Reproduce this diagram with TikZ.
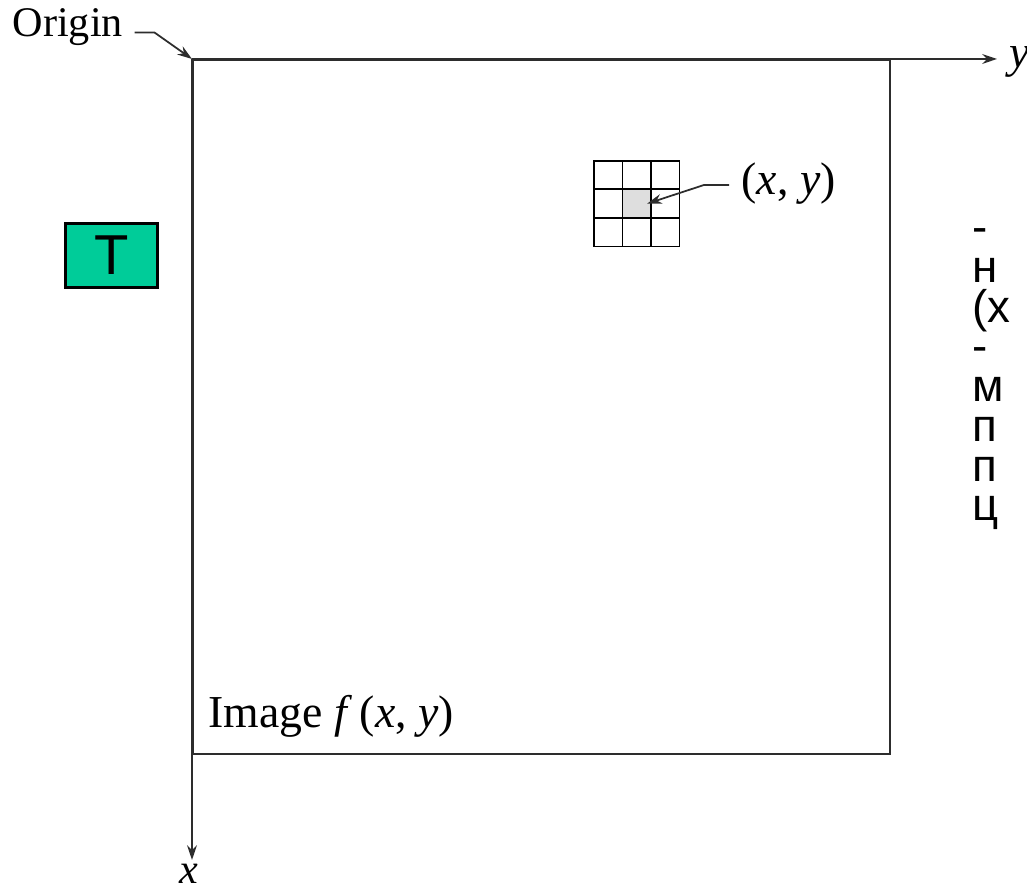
\documentclass[tikz,border=0pt]{standalone}
\usepackage{fontspec}
\setmainfont{Liberation Serif}
\newfontfamily\slidefont{Liberation Sans}
\usetikzlibrary{positioning,arrows.meta}
\definecolor{axisgray}{RGB}{45,45,45}
\definecolor{tealgreen}{RGB}{0,204,153}
\definecolor{cellgray}{RGB}{222,222,222}

\begin{document}
\begin{tikzpicture}[
        x=0.01cm, y=-0.01cm,
        axis/.style={draw=axisgray, line width=0.55pt},
        arrow/.style={-{Stealth[length=4.2pt,width=2.8pt]}, line width=0.5pt, draw=axisgray},
        txt/.style={inner sep=0pt, font=\fontsize{13}{15}\selectfont},
        pixel/.style={draw=black, line width=0.5pt, minimum size=0.285cm, inner sep=0pt},
        tbox/.style={draw=black, fill=tealgreen, line width=0.8pt, minimum width=0.92cm,
            minimum height=0.64cm, inner sep=0pt, font=\slidefont\fontsize{16}{18}\selectfont},
        note/.style={inner sep=0pt, align=left, font=\slidefont\fontsize{13}{11.3}\selectfont}
    ]
    \useasboundingbox (0,0) rectangle (1027,892);
    \clip (0,0) rectangle (1027,892);
    % image area
    \node[axis, draw, minimum width=6.97cm, minimum height=6.94cm, inner sep=0pt,
        anchor=north west] (img) at (192,59) {};
    \coordinate (yend) at (997,59);
    \coordinate (xend) at (192,860);
    \draw[arrow, line width=0.6pt] (img.north west) -- (yend);
    \draw[arrow, line width=0.6pt] (img.north west) -- (xend);
    \node[txt, anchor=west] (ylab) at (1009,62) {\textit{y}};
    \node[txt, font=\fontsize{12}{12}\selectfont, anchor=base] (xlab) at (189,884) {\textit{x}};
    % origin pointer
    \node[txt, font=\fontsize{12}{14}\selectfont, anchor=base west] (orig) at (12,37) {Origin};
    \draw[arrow] (orig.east) ++(11,5) -- ++(20,0) -- (img.north west);
    % neighbourhood
    \foreach \r in {0,1,2} {
        \foreach \c in {0,1,2} {
            \node[pixel, anchor=north west] (c\r\c) at (593+28.5*\c,160+28.5*\r) {};
        }
    }
    \node[pixel, fill=cellgray] at (c11) {};
    \node[txt, anchor=west] (xy) at (741,184) {(\textit{x}, \textit{y})};
    \draw[arrow] (xy.west) ++(-12,1) -- ++(-25,0) -- ([xshift=3pt]c11.center);
    \node[txt, anchor=base west] (imglab) at (208,728) {Image \textit{f}\,(\textit{x}, \textit{y})};
    % slide bits
    \node[tbox, anchor=north west] (tee) at (64,222) {T};
    \node[note, anchor=north west] (desc) at (972,228) {-\\н\\(х\\-\\м\\п\\п\\ц};
\end{tikzpicture}
\end{document}
